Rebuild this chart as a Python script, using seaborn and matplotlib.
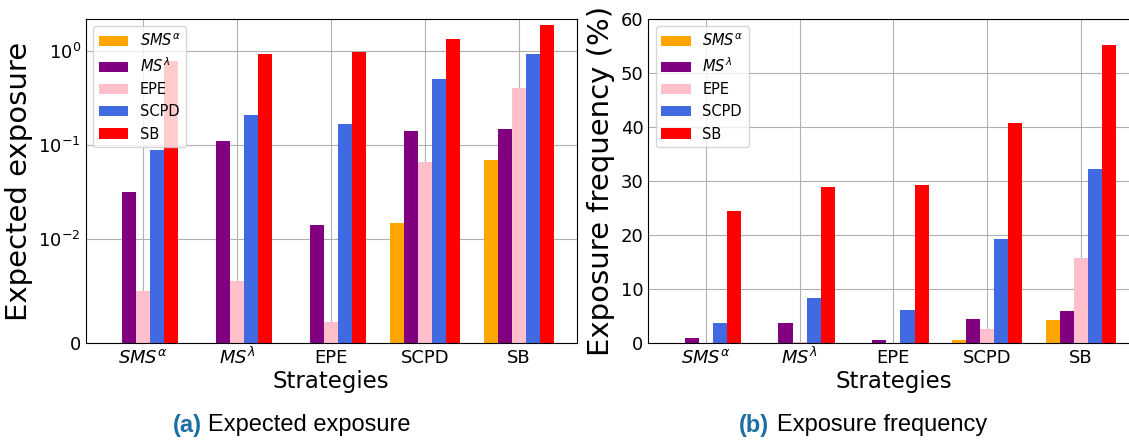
import numpy as np
import pandas as pd
import matplotlib
matplotlib.use("Agg")
import matplotlib.pyplot as plt
import seaborn as sns

# categories (x axis) and methods (hue) share the same names
strategies = ['$SMS^{\\alpha}$', '$MS^{\\lambda}$', 'EPE', 'SCPD', 'SB']
methods = ['$SMS^{\\alpha}$', '$MS^{\\lambda}$', 'EPE', 'SCPD', 'SB']
colors = ['orange', 'purple', 'pink', 'royalblue', 'red']

# expected exposure, one list per method, ordered like strategies
exp_sms = [0.0, 0.0, 0.0, 0.0148, 0.069]
exp_ms = [0.0315, 0.110, 0.0141, 0.141, 0.148]
exp_epe = [0.0050, 0.0060, 0.0020, 0.0657, 0.403]
exp_scpd = [0.088, 0.208, 0.167, 0.502, 0.927]
exp_sb = [0.78, 0.927, 0.98, 1.34, 1.88]

# exposure frequency (%)
freq_sms = [0.0, 0.0, 0.0, 0.6, 4.3]
freq_ms = [1.0, 3.8, 0.6, 4.5, 6.0]
freq_epe = [0.0, 0.25, 0.0, 2.65, 15.8]
freq_scpd = [3.8, 8.4, 6.2, 19.3, 32.3]
freq_sb = [24.5, 28.9, 29.3, 40.8, 55.2]


def long_table(series):
    rows = []
    for m, vals in zip(methods, series):
        for s, v in zip(strategies, vals):
            rows.append({'Strategy': s, 'Method': m, 'Value': v})
    return pd.DataFrame(rows)


df_exp = long_table([exp_sms, exp_ms, exp_epe, exp_scpd, exp_sb])
df_freq = long_table([freq_sms, freq_ms, freq_epe, freq_scpd, freq_sb])

W, H = 1129, 444
fig = plt.figure(figsize=(W / 100, H / 100), dpi=100)
ax1 = fig.add_axes([85.7 / W, (H - 343.3) / H, 491 / W, 324.3 / H])
ax2 = fig.add_axes([648.3 / W, (H - 343.3) / H, 490.2 / W, 324.3 / H])

for ax, df in [(ax1, df_exp), (ax2, df_freq)]:
    sns.barplot(data=df, x='Strategy', y='Value', hue='Method',
                order=strategies, hue_order=methods, palette=colors,
                saturation=1, width=0.75, errorbar=None, linewidth=0, ax=ax)
    ax.set_xlim(-0.6125, 4.6125)
    ax.grid(True)
    ax.set_axisbelow(True)
    ax.set_xlabel('Strategies', fontsize=16.5, labelpad=2)
    ax.tick_params(which='both', length=0, labelsize=13)
    # keep all category labels on one baseline
    ax.tick_params(axis='x', pad=14.4)
    for lbl in ax.get_xticklabels():
        lbl.set_verticalalignment('baseline')
    sns.move_legend(ax, 'upper left', title=None, fontsize=10.5)

ax1.set_yscale('symlog', linthresh=0.01, linscale=1)
ax1.set_ylim(0, 2.2)
ax1.set_yticks([0, 0.01, 0.1, 1])
ax1.set_ylabel('Expected exposure', fontsize=21)

ax2.set_ylim(0, 60)
ax2.set_yticks([0, 10, 20, 30, 40, 50, 60])
ax2.set_ylabel('Exposure frequency (%)', fontsize=21)

# sub-captions under each panel
cap_color = '#1b6fa5'
cap_y = 1 - 425 / H
fig.text(172.7 / W, cap_y, '(a)', fontsize=17, fontweight='bold', color=cap_color,
         family='Liberation Sans', ha='left', va='center')
fig.text(208.3 / W, cap_y, 'Expected exposure', fontsize=17,
         family='Liberation Sans', ha='left', va='center')
fig.text(739.3 / W, cap_y, '(b)', fontsize=17, fontweight='bold', color=cap_color,
         family='Liberation Sans', ha='left', va='center')
fig.text(777.3 / W, cap_y, 'Exposure frequency', fontsize=17,
         family='Liberation Sans', ha='left', va='center')

fig.savefig('out.png', dpi=100)
